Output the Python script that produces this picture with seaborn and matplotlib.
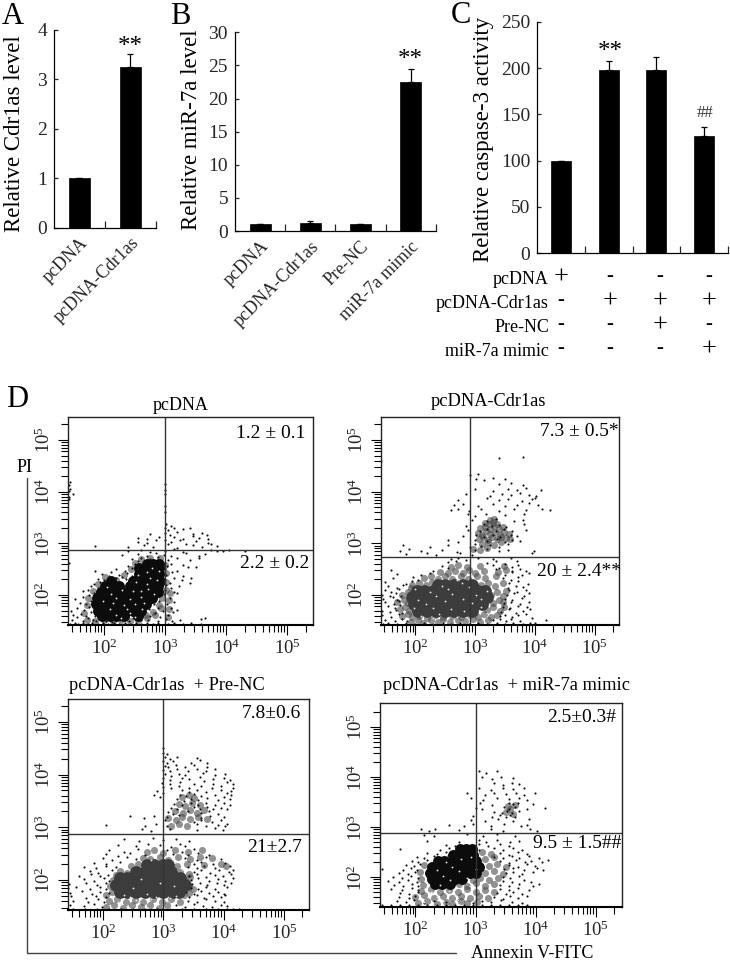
import matplotlib
matplotlib.use("Agg")
import matplotlib.pyplot as plt
from matplotlib.ticker import FixedLocator, LogLocator, NullFormatter
import numpy as np
import pandas as pd
import seaborn as sns

W, H = 730, 960

# bar panels
a_cats = ["pcDNA", "pcDNA-Cdr1as"]
a_vals = [1.0, 3.26]
a_errs = [0.0, 0.26]
b_cats = ["pcDNA", "pcDNA-Cdr1as", "Pre-NC", "miR-7a mimic"]
b_vals = [1.0, 1.2, 1.0, 22.5]
b_errs = [0.0, 0.3, 0.0, 2.0]
c_cats = ["g1", "g2", "g3", "g4"]
c_vals = [100, 198, 198, 126.5]
c_errs = [0, 9.5, 13.5, 9.5]
c_rows = ["pcDNA", "pcDNA-Cdr1as", "Pre-NC", "miR-7a mimic"]
c_signs = [["+", "-", "-", "-"], ["-", "+", "+", "+"], ["-", "-", "+", "-"], ["-", "-", "-", "+"]]

# flow cytometry clouds, log10 units: {log y: [log x, ...]}
p1_core = {
    1.6: [1.97, 2.09, 2.2, 2.33, 2.55],
    1.7: [1.9, 1.99, 2.11, 2.24, 2.36, 2.47, 2.6],
    1.82: [1.87, 1.95, 2.07, 2.19, 2.31, 2.43, 2.55, 2.68],
    1.94: [1.88, 1.97, 2.09, 2.21, 2.33, 2.45, 2.57, 2.69, 2.78],
    2.06: [1.95, 2.05, 2.17, 2.29, 2.43, 2.55, 2.67, 2.79, 2.89],
    2.18: [2.02, 2.12, 2.24, 2.42, 2.54, 2.66, 2.78, 2.88],
    2.28: [2.12, 2.47, 2.57, 2.69, 2.81, 2.91],
    2.4: [2.57, 2.67, 2.79, 2.9],
    2.52: [2.58, 2.67, 2.79, 2.9],
    2.6: [2.7, 2.8, 2.9],
}
p1_grey = [
    (1.72,1.52),(1.86,1.5),(2.0,1.52),(2.14,1.5),(2.28,1.52),(2.42,1.5),(2.56,1.52),(2.7,1.55),(2.84,1.62),(2.94,1.75),
    (1.68,1.66),(1.72,1.8),(1.74,1.94),(1.82,2.08),(1.9,2.22),(2.02,2.34),(2.2,2.3),(2.33,2.38),(2.44,2.5),(2.5,2.62),
    (2.6,2.7),(2.76,2.72),(2.92,2.72),(3.0,2.58),(3.02,2.42),(3.02,2.26),(3.02,2.1),(2.95,1.94),(2.9,1.8),(3.06,1.9),
    (3.08,2.04),(2.8,1.68),(2.68,1.62),(3.06,1.72),(3.04,1.58),
]
p1_specks = [
    (1.45,1.44),(1.52,1.45),(1.58,1.44),(1.66,1.45),(1.73,1.44),(1.81,1.45),(1.9,1.44),(1.98,1.45),(2.07,1.44),(2.16,1.45),
    (2.25,1.44),(2.34,1.45),(2.43,1.44),(2.52,1.45),(2.61,1.44),(2.7,1.45),(2.8,1.44),(2.89,1.45),(3.05,1.44),(3.14,1.45),
    (3.3,1.44),(3.43,1.45),(3.58,1.44),(1.48,1.51),(1.56,1.58),(1.66,1.49),(1.74,1.56),(1.82,1.52),(1.87,1.49),(1.93,1.53),
    (2.03,1.5),(2.13,1.48),(2.26,1.51),(2.41,1.49),(2.47,1.55),(2.61,1.51),(2.72,1.52),(2.88,1.5),(3.02,1.53),(3.12,1.49),
    (3.24,1.52),(1.5,1.62),(1.62,1.64),(1.7,1.59),(1.78,1.67),(1.86,1.6),(1.46,1.69),(1.55,1.74),(1.68,1.71),(1.76,1.77),
    (1.83,1.71),(2.76,1.6),(2.84,1.66),(2.92,1.58),(3.04,1.62),(3.13,1.68),(3.58,1.53),(3.65,1.55),(2.74,1.72),(2.88,1.74),
    (2.97,1.69),(3.09,1.75),(3.19,1.71),(1.6,1.84),(1.71,1.82),(1.79,1.89),(2.82,1.83),(2.9,1.88),(3.03,1.83),(3.14,1.87),
    (1.52,1.93),(1.66,1.96),(1.76,2.0),(1.83,1.93),(2.87,1.96),(2.98,2.02),(3.08,1.94),(3.2,2.04),(1.65,2.07),(1.74,2.1),
    (1.84,2.03),(1.9,2.13),(3.0,2.1),(3.09,2.13),(3.15,2.06),(1.78,2.18),(1.84,2.22),(1.94,2.26),(3.01,2.2),(3.08,2.24),
    (3.22,2.18),(3.4,2.23),(1.9,2.31),(2.0,2.29),(2.08,2.37),(2.19,2.32),(2.29,2.35),(2.36,2.31),(3.0,2.3),(3.15,2.33),
    (3.28,2.29),(3.42,2.32),(1.96,2.41),(2.11,2.45),(2.25,2.39),(2.38,2.43),(2.46,2.37),(3.02,2.39),(3.12,2.44),(3.3,2.37),
    (1.85,2.47),(2.2,2.5),(2.35,2.47),(2.46,2.52),(3.0,2.5),(3.2,2.47),(3.38,2.54),(2.4,2.57),(2.5,2.6),(3.03,2.56),
    (3.1,2.61),(3.3,2.59),(3.5,2.55),(1.43,2.62),(2.56,2.66),(2.46,2.7),(2.61,2.72),(2.75,2.69),(2.88,2.73),(3.05,2.67),
    (3.2,2.71),(3.4,2.68),(3.55,2.72),(2.3,2.77),(2.55,2.79),(2.7,2.76),(2.85,2.82),(2.98,2.78),(3.1,2.75),(3.35,2.81),
    (3.55,2.76),(3.65,2.79),(2.4,2.85),(2.6,2.88),(2.76,2.84),(3.0,2.86),(3.15,2.89),(3.3,2.84),(3.75,2.87),(3.85,2.85),
    (3.95,2.86),(4.05,2.87),(4.3,2.86),(1.85,2.95),(2.4,2.93),(2.65,2.97),(2.8,2.92),(3.05,2.98),(3.2,2.91),(3.45,2.96),
    (3.6,2.93),(3.75,2.99),(3.85,2.95),(2.55,3.03),(2.7,3.0),(2.85,3.06),(3.1,3.02),(3.25,3.07),(3.35,2.99),(3.5,3.05),
    (3.7,3.01),(2.55,3.11),(2.7,3.08),(2.9,3.13),(3.0,3.07),(3.15,3.12),(3.3,3.09),(3.45,3.14),(3.55,3.1),(3.7,3.08),
    (2.75,3.19),(3.0,3.21),(3.08,3.17),(3.2,3.22),(3.45,3.19),(3.6,3.21),(3.68,3.17),(3.0,3.3),(3.05,3.26),(3.15,3.29),
    (3.3,3.27),(3.4,3.3),(3.02,3.38),(3.1,3.34),(3.0,3.6),(3.0,3.72),(1.5,3.95),(3.0,3.95),(1.43,4.02),(3.0,4.03),
    (1.43,4.12),(1.44,4.18),(3.0,4.15),(1.43,3.9),(1.43,3.85),(1.44,4.05),
]

p2_core = {
    1.7: [2.05, 2.2, 2.35, 2.5, 2.65, 2.8, 2.95],
    1.82: [1.97, 2.1, 2.25, 2.4, 2.55, 2.7, 2.85, 3.0, 3.12],
    1.96: [1.95, 2.07, 2.22, 2.37, 2.52, 2.67, 2.82, 2.97, 3.12, 3.2],
    2.08: [2.02, 2.15, 2.3, 2.45, 2.6, 2.75, 2.9, 3.05, 3.16],
    2.2: [2.38, 2.5, 2.65, 2.8, 2.95],
}
p2_grey = [
    (1.92,1.47),(2.04,1.52),(2.13,1.46),(2.26,1.51),(2.38,1.48),(2.47,1.54),(2.58,1.47),(2.72,1.52),(2.83,1.49),(2.96,1.53),
    (3.08,1.47),(3.21,1.51),(1.78,1.59),(1.87,1.64),(1.94,1.57),(2.06,1.6),(2.19,1.56),(2.33,1.61),(2.46,1.58),(2.61,1.6),
    (2.76,1.57),(2.91,1.61),(3.04,1.58),(3.15,1.63),(3.27,1.57),(3.37,1.62),(1.74,1.72),(1.83,1.77),(1.9,1.7),(3.19,1.71),
    (3.3,1.76),(3.41,1.7),(3.48,1.77),(1.7,1.86),(1.81,1.9),(1.87,1.84),(3.3,1.85),(3.39,1.91),(3.47,1.86),(1.78,2.01),
    (1.87,2.05),(1.92,2.13),(3.26,2.0),(3.37,2.05),(3.46,1.99),(3.52,2.07),(1.95,2.2),(2.06,2.24),(2.17,2.2),(2.28,2.26),
    (3.09,2.19),(3.21,2.24),(3.33,2.18),(3.46,2.23),(2.14,2.33),(2.26,2.37),(2.38,2.31),(2.5,2.36),(2.62,2.31),(2.76,2.36),
    (2.88,2.31),(3.03,2.37),(3.17,2.32),(3.34,2.37),(2.42,2.45),(2.54,2.42),(2.66,2.47),(2.79,2.43),(2.9,2.48),(3.0,2.43),
    (3.15,2.47),(3.38,2.44),(3.52,2.48),(2.6,2.55),(2.72,2.59),(2.86,2.54),(3.08,2.57),(3.48,2.56),
    (3.12,2.98),(3.22,3.03),(3.32,2.97),(3.44,3.02),(3.06,3.09),(3.13,3.13),(3.21,3.07),(3.28,3.12),(3.36,3.08),(3.43,3.13),
    (3.52,3.1),(3.58,3.08),(3.04,3.2),(3.11,3.17),(3.18,3.23),(3.25,3.18),(3.33,3.22),(3.41,3.17),(3.48,3.22),(3.56,3.19),
    (3.08,3.29),(3.17,3.32),(3.24,3.27),(3.31,3.33),(3.39,3.28),(3.47,3.31),(3.16,3.4),(3.23,3.37),(3.3,3.42),(3.37,3.38),
    (3.24,3.46),(3.32,3.48),(2.96,2.9),(3.08,2.87),(3.2,2.91),
]
p2_specks = [
    (1.46,1.44),(1.55,1.45),(1.69,1.44),(1.84,1.45),(2.0,1.44),(2.14,1.45),(2.3,1.44),(2.46,1.45),(2.6,1.44),(2.74,1.45),
    (2.9,1.44),(3.04,1.45),(3.2,1.44),(3.36,1.45),(3.5,1.44),(3.64,1.45),(3.8,1.44),(3.92,1.45),(4.0,1.46),(1.5,1.52),
    (1.66,1.5),(1.78,1.54),(1.86,1.49),(3.3,1.51),(3.41,1.54),(3.51,1.49),(3.6,1.53),(3.75,1.5),(3.95,1.55),(4.18,1.51),
    (1.45,1.61),(1.6,1.58),(1.72,1.63),(3.42,1.59),(3.5,1.62),(3.62,1.58),(3.72,1.61),(3.85,1.63),(1.44,1.7),(1.58,1.67),
    (1.68,1.71),(1.78,1.66),(3.43,1.68),(3.56,1.72),(3.68,1.66),(3.8,1.69),(3.92,1.72),(1.55,1.78),(1.66,1.75),(1.74,1.8),
    (3.46,1.77),(3.58,1.74),(3.72,1.79),(3.86,1.76),(1.5,1.86),(1.64,1.83),(1.72,1.88),(3.49,1.84),(3.6,1.87),(3.75,1.83),
    (3.9,1.86),(1.46,1.93),(1.62,1.96),(1.7,1.91),(3.5,1.93),(3.62,1.9),(3.78,1.95),(1.44,2.01),(1.58,1.98),(1.68,2.04),
    (1.76,1.99),(3.53,2.0),(3.65,2.04),(3.82,1.98),(3.9,2.03),(1.5,2.09),(1.6,2.06),(1.72,2.11),(3.56,2.09),(3.7,2.06),
    (3.85,2.1),(1.55,2.17),(1.7,2.14),(1.8,2.19),(3.55,2.14),(3.68,2.18),(3.8,2.15),(1.5,2.25),(1.85,2.22),(1.95,2.28),
    (3.56,2.24),(3.72,2.27),(3.88,2.22),(1.62,2.32),(1.96,2.35),(2.05,2.3),(3.46,2.33),(3.6,2.3),(3.72,2.35),(1.7,2.41),
    (2.1,2.38),(2.25,2.43),(3.5,2.39),(3.62,2.44),(3.78,2.38),(3.9,2.42),(1.6,2.49),(2.3,2.46),(3.35,2.51),(3.62,2.46),
    (3.75,2.5),(3.85,2.47),(2.45,2.56),(2.55,2.53),(3.3,2.58),(3.4,2.53),(3.62,2.55),(3.72,2.59),(2.55,2.63),(2.68,2.66),
    (3.2,2.62),(3.35,2.66),(3.5,2.61),(3.7,2.65),(2.6,2.69),(2.72,2.72),(2.85,2.68),(3.05,2.71),(3.3,2.69),(3.6,2.72),
    (1.85,2.79),(2.2,2.82),(2.35,2.78),(2.75,2.81),(2.95,2.77),(3.95,2.82),(1.75,2.86),(1.9,2.89),(2.1,2.85),(2.45,2.88),
    (2.7,2.84),(3.0,2.87),(3.2,2.9),(3.4,2.85),(3.55,2.88),(3.98,2.86),(1.8,2.96),(2.25,2.93),(2.55,2.97),(2.92,2.92),
    (3.0,2.98),(3.1,2.94),(3.25,2.97),(3.4,2.93),(3.55,2.98),(2.55,3.06),(2.72,3.03),(3.0,3.07),(3.2,3.04),(3.36,3.08),
    (3.5,3.02),(3.62,3.06),(3.75,3.04),(2.8,3.14),(3.02,3.17),(3.14,3.12),(3.3,3.16),(3.42,3.13),(3.6,3.17),(3.7,3.14),
    (2.88,3.26),(3.08,3.23),(3.2,3.28),(3.35,3.24),(3.48,3.27),(3.62,3.23),(3.85,3.26),(2.85,3.34),(3.15,3.37),(3.28,3.33),
    (3.4,3.36),(3.52,3.32),(3.82,3.37),(2.95,3.46),(3.2,3.43),(3.35,3.47),(3.65,3.44),(3.8,3.46),(2.88,3.56),(3.0,3.53),
    (3.18,3.57),(3.5,3.54),(3.82,3.56),(2.6,3.64),(2.72,3.67),(2.9,3.63),(3.1,3.66),(3.4,3.62),(3.65,3.66),(3.85,3.64),
    (4.12,3.66),(4.25,3.64),(2.65,3.74),(2.8,3.77),(3.05,3.73),(3.3,3.76),(3.5,3.72),(3.7,3.75),(3.9,3.78),(4.05,3.74),
    (2.72,3.84),(3.2,3.87),(3.4,3.83),(3.55,3.86),(3.78,3.82),(3.95,3.85),(4.0,3.88),(2.85,3.95),(3.25,3.92),(3.45,3.96),
    (3.6,3.93),(3.75,3.97),(3.9,3.94),(4.02,3.91),(3.0,4.05),(3.3,4.02),(3.55,4.06),(3.7,4.03),(3.85,4.07),(4.1,4.04),
    (3.4,4.14),(3.6,4.17),(3.8,4.13),(3.02,4.25),(3.15,4.22),(3.3,4.27),(3.5,4.24),(2.92,4.32),(3.05,4.35),(3.4,4.65),
    (3.8,4.68),(1.43,4.6),
]

p3_core = {
    1.78: [2.27, 2.4, 2.55, 2.7, 2.85, 3.0, 3.15, 3.26],
    1.9: [2.22, 2.35, 2.5, 2.65, 2.8, 2.95, 3.1, 3.25, 3.35],
    2.03: [2.27, 2.4, 2.55, 2.7, 2.85, 3.0, 3.15, 3.28],
    2.16: [2.55, 2.7, 2.85, 3.0, 3.12],
    2.28: [2.72, 2.85, 3.0, 3.08],
}
p3_grey = [
    (2.05,1.48),(2.18,1.52),(2.32,1.47),(2.47,1.53),(2.63,1.48),(2.77,1.52),(2.92,1.47),(3.06,1.52),(2.1,1.6),(2.23,1.64),
    (2.37,1.58),(2.52,1.62),(2.66,1.59),(2.82,1.64),(2.97,1.58),(3.13,1.63),(3.28,1.59),(2.05,1.72),(2.14,1.78),(3.34,1.71),
    (3.42,1.76),(2.11,1.88),(3.43,1.88),(3.49,1.83),(2.16,2.0),(2.22,2.1),(3.36,2.0),(3.44,2.05),(2.28,2.17),(2.4,2.13),
    (3.27,2.15),(3.42,2.12),(2.46,2.27),(2.58,2.31),(3.23,2.26),(3.39,2.3),(3.68,2.28),(3.95,2.3),(4.04,2.27),(2.66,2.42),
    (2.78,2.39),(2.94,2.44),(3.08,2.38),(3.24,2.43),(3.44,2.39),(3.6,2.44),(3.8,2.41),(2.72,2.53),(2.84,2.57),(2.99,2.52),
    (3.19,2.57),(3.41,2.53),(3.64,2.57),(3.13,3.03),(3.25,3.07),(3.39,3.02),(3.08,3.17),(3.2,3.14),(3.31,3.19),(3.44,3.15),
    (3.57,3.2),(3.72,3.16),(3.19,3.31),(3.32,3.27),(3.44,3.33),(3.55,3.28),(3.68,3.32),(3.25,3.45),(3.36,3.41),(3.48,3.47),
    (3.6,3.43),(3.3,3.58),(3.42,3.62),(3.5,3.56),
]
p3_specks = [
    (1.5,1.44),(1.7,1.45),(1.9,1.44),(2.1,1.45),(2.3,1.44),(2.5,1.45),(2.7,1.44),(2.9,1.45),(3.1,1.44),(3.3,1.45),
    (3.5,1.44),(3.7,1.45),(3.9,1.44),(4.05,1.45),(4.15,1.44),(4.25,1.45),(1.45,1.52),(1.68,1.5),(1.85,1.54),(1.98,1.49),
    (3.2,1.52),(3.35,1.49),(3.5,1.54),(3.65,1.51),(3.8,1.49),(3.95,1.53),(4.05,1.5),(1.5,1.61),(1.75,1.58),(1.92,1.63),
    (2.02,1.59),(3.4,1.61),(3.55,1.58),(3.7,1.63),(3.85,1.6),(4.0,1.58),(1.46,1.69),(1.72,1.66),(1.88,1.7),(2.05,1.67),
    (3.42,1.68),(3.55,1.71),(3.68,1.66),(3.82,1.7),(3.95,1.67),(4.02,1.71),(1.44,1.76),(1.65,1.79),(1.82,1.74),(1.95,1.78),
    (2.1,1.75),(3.38,1.77),(3.5,1.74),(3.62,1.79),(3.75,1.75),(3.9,1.78),(4.0,1.74),(1.42,1.84),(1.55,1.87),(1.78,1.83),
    (1.95,1.86),(2.05,1.82),(3.45,1.85),(3.58,1.82),(3.7,1.87),(3.85,1.83),(4.05,1.86),(1.43,1.92),(1.72,1.95),(1.9,1.91),
    (2.05,1.94),(3.48,1.92),(3.6,1.95),(3.72,1.9),(3.88,1.94),(4.0,1.91),(4.12,1.95),(1.68,2.01),(1.85,1.98),(2.02,2.03),
    (2.1,1.99),(3.45,2.0),(3.58,2.03),(3.75,1.98),(3.9,2.02),(4.02,1.99),(4.15,2.03),(1.6,2.08),(1.8,2.11),(1.95,2.07),
    (2.08,2.1),(3.42,2.08),(3.55,2.11),(3.7,2.06),(3.85,2.1),(3.98,2.07),(4.12,2.11),(1.78,2.17),(1.92,2.14),(2.15,2.19),
    (3.5,2.16),(3.62,2.19),(3.78,2.14),(3.92,2.18),(4.08,2.15),(4.15,2.19),(1.68,2.25),(1.88,2.22),(2.05,2.27),(2.22,2.24),
    (3.4,2.25),(3.55,2.22),(3.68,2.27),(3.85,2.23),(4.1,2.26),(1.85,2.33),(2.05,2.3),(2.28,2.35),(3.5,2.31),(3.62,2.34),
    (3.82,2.3),(4.02,2.33),(2.0,2.41),(2.15,2.38),(2.4,2.43),(2.55,2.39),(3.35,2.41),(3.55,2.38),(3.7,2.43),(3.95,2.4),
    (2.05,2.49),(2.25,2.46),(2.45,2.51),(2.7,2.47),(3.15,2.5),(3.4,2.47),(3.58,2.51),(3.75,2.48),(2.1,2.57),(2.35,2.54),
    (2.58,2.59),(3.05,2.56),(3.3,2.53),(3.5,2.58),(2.25,2.67),(2.55,2.64),(2.75,2.69),(2.95,2.66),(3.12,2.63),(3.28,2.68),
    (3.35,2.65),(2.35,2.77),(2.6,2.74),(2.82,2.79),(3.0,2.75),(3.2,2.78),(3.42,2.74),(2.65,2.96),(2.8,2.93),(3.1,2.97),
    (3.55,2.94),(3.85,2.98),(3.98,2.95),(2.05,3.05),(2.7,3.02),(2.88,3.06),(3.05,3.03),(3.55,3.07),(3.7,3.02),(3.9,3.05),
    (4.02,3.03),(4.05,3.07),(3.02,3.13),(3.5,3.11),(3.62,3.14),(3.8,3.1),(3.95,3.13),(2.45,3.21),(2.68,3.18),(2.85,3.22),
    (3.05,3.19),(3.25,3.23),(3.62,3.18),(3.78,3.22),(4.0,3.19),(3.08,3.29),(3.15,3.26),(3.4,3.3),(3.62,3.27),(3.75,3.3),
    (3.9,3.26),(3.12,3.37),(3.22,3.34),(3.5,3.38),(3.6,3.35),(3.72,3.38),(3.82,3.34),(3.95,3.37),(4.05,3.34),(3.18,3.45),
    (3.3,3.42),(3.45,3.46),(3.58,3.43),(3.7,3.47),(3.85,3.43),(4.0,3.46),(4.1,3.42),(3.22,3.53),(3.34,3.5),(3.46,3.54),
    (3.58,3.51),(3.72,3.55),(3.9,3.51),(4.1,3.54),(2.85,3.61),(2.95,3.58),(3.28,3.62),(3.38,3.59),(3.5,3.63),(3.62,3.59),
    (3.85,3.62),(4.0,3.58),(4.12,3.61),(2.9,3.69),(3.0,3.66),(3.3,3.7),(3.42,3.67),(3.55,3.71),(3.7,3.67),(3.95,3.7),
    (4.05,3.66),(4.12,3.69),(3.0,3.77),(3.12,3.74),(3.25,3.78),(3.42,3.75),(3.62,3.79),(3.8,3.75),(3.95,3.78),(4.15,3.74),
    (2.98,3.85),(3.1,3.82),(3.28,3.86),(3.5,3.83),(3.68,3.87),(3.82,3.83),(4.05,3.86),(4.15,3.82),(3.0,3.93),(3.1,3.9),
    (3.3,3.94),(3.42,3.91),(3.6,3.95),(3.82,3.91),(4.0,3.94),(4.1,3.9),(3.02,4.01),(3.12,3.98),(3.25,4.02),(3.35,3.99),
    (3.65,4.03),(3.85,3.99),(4.02,4.02),(3.0,4.09),(3.1,4.06),(3.22,4.1),(3.4,4.07),(3.55,4.11),(3.7,4.07),(3.85,4.1),
    (3.02,4.17),(3.08,4.14),(3.2,4.18),(3.35,4.15),(3.5,4.19),(3.72,4.15),(3.0,4.25),(3.05,4.22),(3.15,4.26),(3.45,4.23),
    (3.6,4.27),(3.72,4.23),(3.02,4.33),(3.1,4.3),(3.22,4.34),(3.55,4.31),(3.0,4.42),(3.05,4.39),(3.0,4.51),
]

p4_core = {
    1.87: [2.32, 2.44, 2.58],
    1.97: [2.27, 2.38, 2.52, 2.66, 2.78],
    2.09: [2.24, 2.35, 2.48, 2.62, 2.76, 2.9, 3.0],
    2.21: [2.28, 2.4, 2.54, 2.68, 2.82, 2.96, 3.06],
    2.33: [2.37, 2.48, 2.62, 2.76, 2.9, 3.0],
    2.45: [2.62, 2.74, 2.86, 2.96],
    2.56: [2.74, 2.84, 2.94],
}
p4_grey = [
    (2.05,1.48),(2.2,1.52),(2.35,1.47),(2.5,1.51),(2.6,1.47),(2.75,1.52),(2.85,1.48),(3.02,1.51),(2.0,1.6),(2.15,1.64),
    (2.3,1.58),(2.45,1.62),(2.6,1.59),(2.75,1.63),(2.9,1.58),(3.05,1.62),(3.2,1.59),(2.1,1.72),(2.25,1.76),(2.4,1.7),
    (2.55,1.75),(2.7,1.71),(2.85,1.76),(3.0,1.7),(3.15,1.75),(3.3,1.71),(2.12,1.85),(2.72,1.86),(2.85,1.82),(3.0,1.88),
    (3.15,1.83),(3.3,1.87),(2.1,1.97),(2.95,1.95),(3.08,1.99),(3.22,1.94),(3.38,1.98),(2.08,2.1),(3.15,2.08),(3.3,2.12),
    (3.45,2.07),(2.15,2.24),(3.22,2.22),(3.35,2.26),(3.5,2.21),(2.55,2.38),(3.15,2.36),(3.3,2.4),(3.1,2.5),(3.25,2.47),
    (3.5,3.3),(3.58,3.36),(3.62,3.27),(3.54,3.42),(3.66,3.44),
]
p4_specks = [
    (1.45,1.44),(1.6,1.45),(1.75,1.44),(1.9,1.45),(2.05,1.44),(2.2,1.45),(2.35,1.44),(2.5,1.45),(2.65,1.44),(2.8,1.45),
    (2.95,1.44),(3.1,1.45),(3.25,1.44),(3.4,1.45),(3.55,1.44),(3.7,1.45),(3.85,1.44),(1.7,1.53),(1.85,1.5),(1.98,1.54),
    (2.15,1.49),(2.3,1.53),(2.5,1.5),(2.7,1.54),(2.95,1.49),(3.1,1.53),(3.25,1.5),(3.42,1.54),(3.6,1.51),(3.78,1.49),
    (1.72,1.61),(1.9,1.58),(2.0,1.63),(3.3,1.6),(3.45,1.57),(3.58,1.62),(3.7,1.59),(3.85,1.63),(1.75,1.69),(1.9,1.66),
    (2.05,1.71),(3.35,1.68),(3.5,1.66),(3.62,1.71),(3.78,1.67),(1.6,1.77),(1.78,1.74),(1.95,1.79),(2.05,1.75),(3.4,1.77),
    (3.55,1.74),(3.7,1.79),(3.88,1.75),(1.65,1.85),(1.8,1.82),(1.95,1.87),(2.05,1.83),(3.4,1.85),(3.55,1.82),(3.72,1.86),
    (3.95,1.83),(4.05,1.87),(1.55,1.93),(1.72,1.9),(1.88,1.95),(2.02,1.91),(3.45,1.93),(3.6,1.9),(3.8,1.95),(3.92,1.91),
    (1.62,2.01),(1.78,1.98),(1.92,2.03),(2.05,1.99),(3.45,2.01),(3.58,1.98),(3.72,2.03),(1.72,2.09),(1.88,2.06),(2.0,2.11),
    (3.5,2.08),(3.62,2.11),(3.78,2.06),(3.95,2.1),(1.45,2.17),(1.8,2.14),(1.92,2.18),(2.02,2.15),(3.48,2.16),(3.62,2.19),
    (3.8,2.14),(4.02,2.18),(4.12,2.15),(1.85,2.25),(1.98,2.22),(2.08,2.26),(3.55,2.24),(3.7,2.21),(3.85,2.26),(3.98,2.22),
    (1.95,2.33),(2.05,2.3),(2.2,2.34),(3.4,2.32),(3.55,2.29),(3.68,2.34),(3.82,2.3),(3.92,2.33),(4.1,2.3),(4.2,2.34),
    (2.02,2.41),(2.15,2.38),(2.3,2.42),(2.45,2.39),(3.3,2.41),(3.45,2.38),(3.6,2.42),(3.72,2.39),(3.88,2.43),(4.05,2.39),
    (2.2,2.49),(2.35,2.46),(2.5,2.5),(3.4,2.48),(3.55,2.45),(3.7,2.5),(3.85,2.46),(1.75,2.57),(2.4,2.54),(2.55,2.58),
    (3.05,2.55),(3.3,2.58),(3.45,2.54),(3.62,2.58),(3.78,2.55),(2.5,2.65),(2.65,2.62),(3.05,2.66),(3.2,2.63),(3.4,2.66),
    (3.55,2.62),(2.2,2.73),(2.72,2.7),(3.05,2.74),(3.18,2.71),(3.35,2.74),(3.58,2.7),(3.72,2.73),(2.15,2.85),(2.3,2.82),
    (2.85,2.86),(3.12,2.83),(3.35,2.86),(3.65,2.82),(2.1,2.96),(2.22,2.93),(2.32,2.97),(2.72,2.94),(3.25,2.97),(3.45,2.93),
    (3.9,2.96),(4.02,2.93),(2.55,3.05),(2.8,3.02),(2.95,3.06),(3.25,3.03),(3.48,3.06),(3.75,3.02),(3.85,3.05),(2.92,3.15),
    (3.15,3.12),(3.38,3.16),(3.62,3.13),(3.88,3.16),(2.95,3.23),(3.28,3.2),(3.4,3.24),(3.5,3.21),(3.58,3.24),(3.65,3.2),
    (3.3,3.31),(3.44,3.28),(3.52,3.32),(3.6,3.29),(3.72,3.32),(3.0,3.39),(3.1,3.36),(3.48,3.4),(3.56,3.37),(3.66,3.4),
    (3.85,3.36),(4.15,3.39),(3.08,3.47),(3.28,3.44),(3.55,3.48),(3.62,3.45),(3.7,3.48),(3.95,3.45),(2.92,3.57),(3.12,3.54),
    (3.35,3.58),(3.55,3.55),(3.72,3.58),(3.85,3.54),(2.85,3.67),(3.15,3.64),(3.3,3.68),(3.5,3.65),(3.68,3.68),(3.8,3.64),
    (3.98,3.67),(3.05,3.77),(3.25,3.74),(3.45,3.78),(3.62,3.75),(3.8,3.78),(3.3,3.87),(3.45,3.84),(3.6,3.88),(3.72,3.85),
    (3.1,3.99),(3.28,3.96),(3.42,4.0),(3.62,3.97),(3.05,4.11),(3.18,4.08),(3.35,4.12),
]

# lighter specks inside the dense parts
p1_holes = [
    (2.32,1.8),(2.5,1.83),(2.2,1.95),(2.42,1.93),(2.6,1.97),(2.3,2.1),(2.48,2.07),(2.72,2.12),(2.52,2.25),(2.7,2.22),
    (2.7,2.45),(2.2,1.62),(2.42,1.65),(2.1,1.73),(1.98,1.88),(2.62,1.72),(2.86,2.3),(2.78,2.52),(2.56,2.38),(2.38,1.72),
    (2.12,2.02),(2.05,2.16),(2.6,2.08),(2.82,2.02),(2.9,2.47),(2.66,1.85),(2.28,1.56),(2.5,1.58),(2.15,1.84),(2.76,2.32),
]
p2_holes = [
    (2.1,1.6),(2.4,1.63),(2.7,1.58),(2.3,1.75),(2.6,1.73),(3.1,1.77),(2.05,1.9),(2.5,1.88),(2.8,1.93),(2.25,2.05),
    (2.62,2.02),(3.2,2.07),(2.45,2.18),(2.9,2.16),(2.7,2.3),(3.1,2.33),(2.18,1.83),(2.95,1.85),(2.35,1.98),(3.02,2.0),
    (1.98,1.75),(2.82,1.7),(2.55,2.12),(3.1,1.92),(2.0,2.12),(2.78,2.24),(2.3,1.55),(2.9,1.52),(3.2,1.65),
]
p3_holes = [
    (2.3,1.55),(2.6,1.58),(2.9,1.52),(2.15,1.65),(2.45,1.68),(2.8,1.63),(3.1,1.66),(2.35,1.72),(2.72,1.74),(3.2,1.7),
    (2.8,2.38),(3.2,2.35),(3.3,2.2),(2.4,1.5),(2.75,1.47),(3.0,1.55),(2.5,1.85),(2.95,1.95),(2.62,2.02),(3.18,1.88),
    (2.55,1.62),(2.25,1.58),(3.05,1.6),(2.88,1.68),
]
p4_holes = [
    (2.25,1.7),(2.55,1.72),(2.8,1.68),(2.4,1.85),(2.9,1.83),(2.45,2.02),(2.85,1.99),(2.6,2.2),(3.0,2.17),(2.75,2.36),
    (2.35,1.6),(2.65,1.62),(2.35,2.14),(2.72,2.12),(2.58,1.95),(2.5,2.3),(2.92,2.4),(2.15,1.5),(2.45,1.52),(2.7,1.55),
]

sns.set_theme(style="ticks")
plt.rcParams["font.family"] = ["Liberation Serif", "DejaVu Serif"]
plt.rcParams["mathtext.default"] = "regular"
plt.rcParams["mathtext.fontset"] = "custom"
plt.rcParams["mathtext.rm"] = "Liberation Serif"


def box(x0, y0, x1, y1):
    # pixel box from the top left, to figure fractions
    return [x0 / W, 1 - y1 / H, (x1 - x0) / W, (y1 - y0) / H]


def put(x, y, s, size=13, color="black", **kw):
    kw.setdefault("ha", "center")
    kw.setdefault("va", "center")
    fig.text(x / W, 1 - y / H, s, fontsize=size, color=color, **kw)


def bars(pos, cats, vals, errs, ymax, step, labels=True):
    ax = fig.add_axes(box(*pos))
    df = pd.DataFrame({"group": cats, "value": vals})
    sns.barplot(data=df, x="group", y="value", color="black", width=0.42, saturation=1,
                edgecolor="black", linewidth=0.5, ax=ax)
    ax.errorbar(range(len(cats)), vals, yerr=[np.zeros(len(errs)), errs], fmt="none",
                ecolor="black", elinewidth=0.9, capsize=2, capthick=0.9)
    ax.set_xlim(-0.5, len(cats) - 0.5)
    ax.set_ylim(0, ymax)
    ax.set_yticks(np.arange(0, ymax + step, step))
    ax.set_xlabel("")
    ax.set_ylabel("")
    ax.tick_params(axis="y", direction="in", length=3, width=0.9, labelsize=14, pad=5)
    ax.tick_params(axis="x", length=0, pad=5)
    ax.xaxis.set_minor_locator(FixedLocator(np.arange(0.5, len(cats), 1)))
    ax.tick_params(axis="x", which="minor", direction="in", length=5, width=0.9)
    if labels:
        ax.set_xticks(range(len(cats)))
        ax.set_xticklabels(cats, rotation=45, ha="right", rotation_mode="anchor", fontsize=13)
    else:
        ax.set_xticklabels([])
    for s in ["left", "bottom"]:
        ax.spines[s].set_linewidth(0.9)
        ax.spines[s].set_color("black")
    sns.despine(ax=ax)
    return ax


def layer(ax, pts, color, size, alpha=1):
    if isinstance(pts, dict):
        pts = [(x, y) for y, xs in pts.items() for x in xs]
    df = pd.DataFrame(pts, columns=["x", "y"])
    sns.scatterplot(x=10 ** df["x"], y=10 ** df["y"], color=color, s=size, linewidth=0,
                    alpha=alpha, legend=False, ax=ax, clip_on=True)


def cyto(pos, xlim, ylim, qx, qy, core, core_color, core_size, grey, specks, holes):
    ax = fig.add_axes(box(*pos))
    ax.set_xscale("log")
    ax.set_yscale("log")
    # grey halo stands in for the fine stipple around the dense part
    layer(ax, grey, "#4a4a4a", 26, alpha=0.6)
    layer(ax, core, core_color, core_size)
    layer(ax, specks, "#111111", 2.4)
    layer(ax, holes, "#e0e0e0", 1.8)
    ax.axvline(10 ** qx, color="#333333", lw=1)
    ax.axhline(10 ** qy, color="#333333", lw=1)
    ax.set_xlim(10 ** xlim[0], 10 ** xlim[1])
    ax.set_ylim(10 ** ylim[0], 10 ** ylim[1])
    ax.set_xlabel("")
    ax.set_ylabel("")
    for axis in [ax.xaxis, ax.yaxis]:
        axis.set_minor_locator(LogLocator(base=10, subs=np.arange(2, 10), numticks=10))
        axis.set_minor_formatter(NullFormatter())
    ax.set_xticks([100, 1000, 10000, 100000], [r"$10^{2}$", r"$10^{3}$", r"$10^{4}$", r"$10^{5}$"])
    ax.set_yticks([100, 1000, 10000, 100000], [r"$10^{2}$", r"$10^{3}$", r"$10^{4}$", r"$10^{5}$"])
    ax.tick_params(axis="both", which="major", length=7, width=0.8, labelsize=13.5, color="black", pad=3)
    ax.tick_params(axis="both", which="minor", length=5, width=0.8, color="black")
    ax.tick_params(axis="y", labelrotation=90)
    for t in ax.get_yticklabels():
        t.set_va("center")
    for s in ax.spines.values():
        s.set_linewidth(1)
        s.set_color("#222222")
    ax.spines["bottom"].set_linewidth(1.5)
    ax.spines["bottom"].set_color("black")
    return ax


fig = plt.figure(figsize=(W / 100, H / 100), dpi=100, facecolor="white")

bars((54, 30, 155.7, 227.5), a_cats, a_vals, a_errs, 4, 1)
bars((235, 32.3, 435.7, 231), b_cats, b_vals, b_errs, 30, 5)
bars((537.3, 21.7, 728, 253.3), c_cats, c_vals, c_errs, 250, 50, labels=False)

put(15, 134, "Relative Cdr1as level", 16.5, rotation=90)
put(192, 130, "Relative miR-7a level", 16.5, rotation=90)
put(483, 139, "Relative caspase-3 activity", 16.5, rotation=90)

put(13, 24, "A", 22, va="baseline")
put(180, 24, "B", 22, va="baseline")
put(461, 22.6, "C", 22, va="baseline")
put(17, 407, "D", 22, va="baseline")

put(130, 47, "**", 18)
put(410.7, 60, "**", 18)
put(610.7, 52, "**", 18)
put(705, 113, "##", 12, color="#333333")

# +/- table under panel C
row_y = [279, 303, 327, 351]
col_x = [561, 610, 660, 709]
for row, signs, y in zip(c_rows, c_signs, row_y):
    put(549, y, row, 13, ha="right")
    for sign, x in zip(signs, col_x):
        if sign == "+":
            put(x, y - 1, "+", 19)
        else:
            put(x, y - 3, "-", 15, fontweight="bold")

cyto((68.3, 417.3, 312.7, 625), (1.415, 5.416), (1.42, 5.44), 3.0, 2.87, p1_core, "#0c0c0c", 62, p1_grey, p1_specks, p1_holes)
cyto((380.7, 417.3, 619.3, 625), (1.42, 5.41), (1.42, 5.44), 2.92, 2.735, p2_core, "#3c3c3c", 85, p2_grey, p2_specks, p2_holes)
cyto((68.3, 699.3, 309.3, 910), (1.42, 5.42), (1.43, 5.43), 3.0, 2.876, p3_core, "#3c3c3c", 85, p3_grey, p3_specks, p3_holes)
cyto((380, 703.3, 621.7, 906.7), (1.41, 5.43), (1.41, 5.47), 3.0, 2.88, p4_core, "#0c0c0c", 62, p4_grey, p4_specks, p4_holes)

put(181, 405, "pcDNA", 13)
put(488, 402, "pcDNA-Cdr1as", 13.2)
put(167, 686, "pcDNA-Cdr1as  + Pre-NC", 13.2)
put(506.7, 686, "pcDNA-Cdr1as  + miR-7a mimic", 13.2)

put(270.7, 433, "1.2 ± 0.1", 14)
put(275, 564, "2.2 ± 0.2", 14)
put(579, 432, "7.3 ± 0.5*", 14)
put(579, 571, "20 ± 2.4**", 14)
put(271, 713, "7.8±0.6", 14)
put(275, 847, "21±2.7", 14)
put(581.7, 718, "2.5±0.3#", 14)
put(576.7, 844, "9.5 ± 1.5##", 14)

# long L shaped axis around panel D
fig.add_artist(plt.Line2D([27.3 / W, 27.3 / W, 456 / W], [1 - 478 / H, 1 - 952.7 / H, 1 - 952.7 / H],
                          color="#444444", lw=1))
put(25, 467, "PI", 13)
put(531.7, 953, "Annexin V-FITC", 13)

fig.savefig("out.png", dpi=100)
